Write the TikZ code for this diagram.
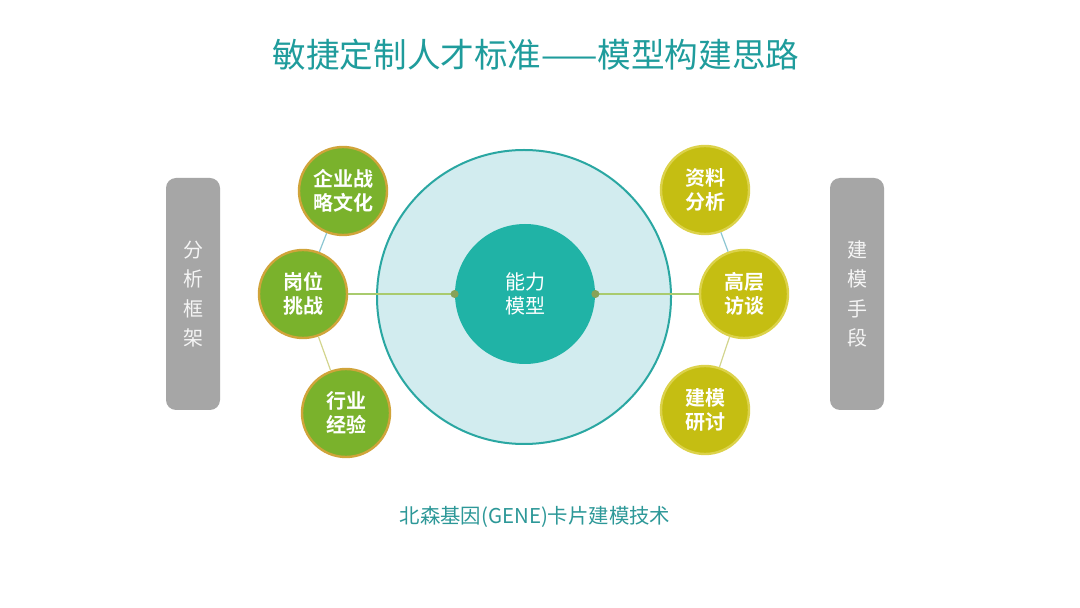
\documentclass[tikz,border=0pt]{standalone}
\usepackage{fontspec}
\usepackage{xcolor}
\usepackage{tikz}
\newfontfamily\cjk[BoldFont={Noto Sans CJK SC Bold}]{Noto Sans CJK SC}
\definecolor{titleteal}{HTML}{1F9C9C}
\definecolor{ringfill}{HTML}{D2ECEF}
\definecolor{ringline}{HTML}{2AA7A2}
\definecolor{corefill}{HTML}{20B3A6}
\definecolor{leafgreen}{HTML}{7AB22C}
\definecolor{leafrim}{HTML}{D0A43A}
\definecolor{leafolive}{HTML}{C5BE12}
\definecolor{olivrim}{HTML}{DCD24A}
\definecolor{sidegray}{HTML}{A6A6A6}
\definecolor{linkgreen}{HTML}{A9CB6E}
\definecolor{linkblue}{HTML}{8CC6D2}
\definecolor{linkyellow}{HTML}{D3D58E}

\begin{document}
\begin{tikzpicture}[x=0.5pt,y=-0.5pt,
    leaf/.style={circle,draw=leafrim,fill=leafgreen,line width=1.2pt,minimum size=44pt,inner sep=0pt,
      text=white,align=center,font=\cjk\bfseries\fontsize{10}{12}\selectfont},
    tool/.style={leaf,draw=olivrim,fill=leafolive},
    sidebar/.style={rectangle,rounded corners=5pt,fill=sidegray,minimum width=27pt,minimum height=116pt,
      inner sep=0pt,text=white!92!gray,align=center,font=\cjk\fontsize{10}{14.6}\selectfont},
    link/.style={line width=0.6pt}]
  \useasboundingbox (0,0) rectangle (1080,608);
  \fill[white] (0,0) rectangle (1080,608);
  % title
  \node[text=titleteal,font=\cjk\fontsize{16.8}{18}\selectfont] (title) at (536,55) {敏捷定制人才标准——模型构建思路};
  % side bars
  \node[sidebar] (frame) at (193,294) {分\\析\\框\\架};
  \node[sidebar] (means) at (857,294) {建\\模\\手\\段};
  % rings
  \node[circle,draw=ringline,fill=ringfill,line width=1pt,minimum size=147pt] (ring) at (524,297) {};
  \node[circle,fill=corefill,minimum size=70pt,inner sep=0pt,text=white,align=center,
    font=\cjk\fontsize{10}{12}\selectfont] (core) at (525,294) {能力\\模型};
  % left nodes
  \node[leaf] (strat) at (343,191) {企业战\\略文化};
  \node[leaf] (post) at (303,294) {岗位\\挑战};
  \node[leaf] (trade) at (346,413) {行业\\经验};
  % right nodes
  \node[tool] (data) at (705,190) {资料\\分析};
  \node[tool] (talk) at (744,294) {高层\\访谈};
  \node[tool] (meet) at (705,410) {建模\\研讨};
  % connectors
  \draw[link,linkblue] (strat) -- (post);
  \draw[link,linkyellow] (post) -- (trade);
  \draw[link,linkblue] (data) -- (talk);
  \draw[link,linkyellow] (talk) -- (meet);
  \draw[link,linkgreen] (post.east) -- (core.west);
  \draw[link,linkgreen] (core.east) -- (talk.west);
  \fill[linkgreen!80!black] (core.west) circle (2pt);
  \fill[linkgreen!80!black] (core.east) circle (2pt);
  % footer
  \node[text=titleteal!85!gray,font=\cjk\fontsize{10.2}{11}\selectfont] (foot) at (535,517) {北森基因(GENE)卡片建模技术};
\end{tikzpicture}
\end{document}
